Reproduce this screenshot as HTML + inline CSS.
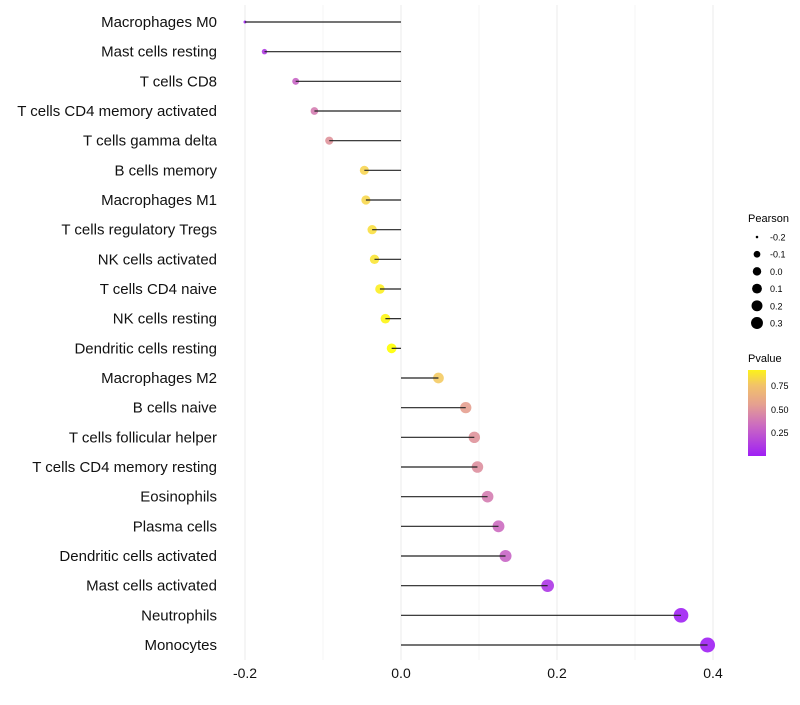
<!DOCTYPE html>
<html><head><meta charset="utf-8"><style>
body{margin:0;background:#fff;font-family:"Liberation Sans",sans-serif}
</style></head><body>
<svg id="chart" width="800" height="700" xmlns="http://www.w3.org/2000/svg" font-family="Liberation Sans, sans-serif">
<defs><linearGradient id="pg" x1="0" y1="1" x2="0" y2="0">
<stop offset="0" stop-color="#9f1ff5"/><stop offset="0.36" stop-color="#cc6cc0"/><stop offset="0.6" stop-color="#e5a090"/><stop offset="0.82" stop-color="#f2c26a"/><stop offset="1" stop-color="#fcf21a"/></linearGradient></defs>
<g id="grid"></g><g id="marks"></g><g id="labels"></g>
<g id="legend">
<text x="748" y="222" font-size="11">Pearson</text>
<text x="748" y="362" font-size="11">Pvalue</text>
<rect x="748" y="370" width="18" height="86" fill="url(#pg)"/>
<text x="771" y="389" font-size="9">0.75</text>
<text x="771" y="413" font-size="9">0.50</text>
<text x="771" y="436" font-size="9">0.25</text>
</g>
</svg>
<script>
const cells=["Macrophages M0","Mast cells resting","T cells CD8","T cells CD4 memory activated","T cells gamma delta","B cells memory","Macrophages M1","T cells regulatory  Tregs ","NK cells activated","T cells CD4 naive","NK cells resting","Dendritic cells resting","Macrophages M2","B cells naive","T cells follicular helper","T cells CD4 memory resting","Eosinophils","Plasma cells","Dendritic cells activated","Mast cells activated","Neutrophils","Monocytes"];
const pearson=[-0.2,-0.175,-0.135,-0.111,-0.092,-0.047,-0.045,-0.037,-0.034,-0.027,-0.02,-0.012,0.048,0.083,0.094,0.098,0.111,0.125,0.134,0.188,0.359,0.393];
const pvalue=[0.01,0.12,0.3,0.4,0.5,0.78,0.79,0.82,0.84,0.88,0.91,0.95,0.74,0.55,0.5,0.48,0.4,0.33,0.3,0.1,0.01,0.005];
const xTicks=[-0.2,0,0.2,0.4];
const xMinor=[-0.1,0.1,0.3];
const sizeLegend=[-0.2,-0.1,0.0,0.1,0.2,0.3];
const NS="http://www.w3.org/2000/svg";
const X=v=>401+v*780;
const Y=i=>22+i*(623/21);
const R=v=>1.5+6*Math.sqrt(Math.max(0,v+0.2)/0.593);
const stops=[[0,[159,31,245]],[0.33,[204,108,192]],[0.55,[229,160,144]],[0.75,[245,205,98]],[0.95,[255,255,0]]];
function col(p){if(p<=0)p=0;for(let k=1;k<stops.length;k++){if(p<=stops[k][0]||k==stops.length-1){const a=stops[k-1],b=stops[k];let t=Math.min(1,(p-a[0])/(b[0]-a[0]));return "rgb("+a[1].map((c,j)=>Math.round(c+(b[1][j]-c)*t)).join(",")+")";}}}
function el(t,a,p){const e=document.createElementNS(NS,t);for(const k in a)e.setAttribute(k,a[k]);p.appendChild(e);return e;}
const g=document.getElementById('grid'),m=document.getElementById('marks'),l=document.getElementById('labels');
xMinor.concat(xTicks).forEach(v=>{const ln=el('line',{x1:X(v),x2:X(v),y1:5,y2:660,stroke:xTicks.includes(v)?'#ebebeb':'#f4f4f4','stroke-width':1},g);

});
xTicks.forEach(v=>{const t=el('text',{x:X(v),y:678,'font-size':14,'text-anchor':'middle',fill:'#111'},l);t.textContent=v==0?'0.0':v.toFixed(1);

});
cells.forEach((c,i)=>{const y=Y(i);
const t=el('text',{x:217,y:y+5,'font-size':15,'text-anchor':'end',fill:'#111'},l);t.textContent=c;


const d=el('circle',{cx:X(pearson[i]),cy:y,r:R(pearson[i]),fill:col(pvalue[i]),'fill-opacity':0.9},m);


const s=el('line',{x1:X(0),x2:X(pearson[i]),y1:y,y2:y,stroke:'#222','stroke-width':1.2},m);

});
const lg=document.getElementById('legend');
sizeLegend.forEach((v,i)=>{const y=237+i*17.2;
const d=el('circle',{cx:757,cy:y,r:R(v)*0.85,fill:'#000'},lg);


const t=el('text',{x:770,y:y+3.5,'font-size':9},lg);t.textContent=v.toFixed(1);

});
</script>
</body></html>
